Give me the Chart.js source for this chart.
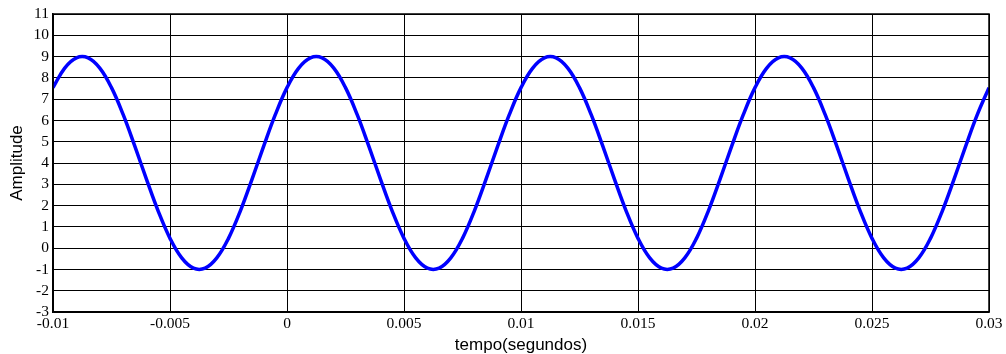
<!DOCTYPE html>
<html>
<head>
<meta charset="utf-8">
<script src="https://cdn.jsdelivr.net/npm/chart.js@4/dist/chart.umd.min.js"></script>
<style>
  html, body { margin: 0; padding: 0; background: #fff; }
  #wrap { width: 1006px; height: 354px; }
</style>
</head>
<body>
<div id="wrap"><canvas id="sineChart" width="1006" height="354"></canvas></div>
<script>
// time samples (s) and amplitude
const tempo = [
  -0.01, -0.0095, -0.009, -0.0085, -0.008, -0.0075, -0.007, -0.0065, -0.006, -0.0055,
  -0.005, -0.0045, -0.004, -0.0035, -0.003, -0.0025, -0.002, -0.0015, -0.001, -0.0005,
  0, 0.0005, 0.001, 0.0015, 0.002, 0.0025, 0.003, 0.0035, 0.004, 0.0045,
  0.005, 0.0055, 0.006, 0.0065, 0.007, 0.0075, 0.008, 0.0085, 0.009, 0.0095,
  0.01, 0.0105, 0.011, 0.0115, 0.012, 0.0125, 0.013, 0.0135, 0.014, 0.0145,
  0.015, 0.0155, 0.016, 0.0165, 0.017, 0.0175, 0.018, 0.0185, 0.019, 0.0195,
  0.02, 0.0205, 0.021, 0.0215, 0.022, 0.0225, 0.023, 0.0235, 0.024, 0.0245,
  0.025, 0.0255, 0.026, 0.0265, 0.027, 0.0275, 0.028, 0.0285, 0.029, 0.0295,
  0.03
];
const amplitude = [
  7.54, 8.46, 8.94, 8.94, 8.46, 7.54, 6.27, 4.78, 3.22, 1.73,
  0.46, -0.46, -0.94, -0.94, -0.46, 0.46, 1.73, 3.22, 4.78, 6.27,
  7.54, 8.46, 8.94, 8.94, 8.46, 7.54, 6.27, 4.78, 3.22, 1.73,
  0.46, -0.46, -0.94, -0.94, -0.46, 0.46, 1.73, 3.22, 4.78, 6.27,
  7.54, 8.46, 8.94, 8.94, 8.46, 7.54, 6.27, 4.78, 3.22, 1.73,
  0.46, -0.46, -0.94, -0.94, -0.46, 0.46, 1.73, 3.22, 4.78, 6.27,
  7.54, 8.46, 8.94, 8.94, 8.46, 7.54, 6.27, 4.78, 3.22, 1.73,
  0.46, -0.46, -0.94, -0.94, -0.46, 0.46, 1.73, 3.22, 4.78, 6.27,
  7.54
];
const xTickLabels = ['-0.01', '-0.005', '0', '0.005', '0.01', '0.015', '0.02', '0.025', '0.03'];
const yTickLabels = ['-3', '-2', '-1', '0', '1', '2', '3', '4', '5', '6', '7', '8', '9', '10', '11'];

const points = tempo.map((t, i) => ({ x: t, y: amplitude[i] }));

// black frame round the plot area, like matlab's box on
const boxPlugin = {
  id: 'boxPlugin',
  afterDraw(chart) {
    const { ctx, chartArea: a } = chart;
    ctx.save();
    ctx.strokeStyle = '#000';
    ctx.lineWidth = 1.5;
    ctx.strokeRect(a.left, a.top, a.right - a.left, a.bottom - a.top);
    ctx.restore();
  }
};

const tickFont = { family: '"Liberation Serif", "Times New Roman", serif', size: 15.5 };
const titleFont = { family: '"Liberation Sans", Arial, sans-serif', size: 17 };

const ctx = document.getElementById('sineChart').getContext('2d');
const sineChart = new Chart(ctx, {
  type: 'line',
  data: {
    datasets: [{
      data: points,
      borderColor: '#0000ff',
      borderWidth: 3.5,
      pointRadius: 0,
      tension: 0.4,
      fill: false
    }]
  },
  options: {
    responsive: false,
    animation: false,
    devicePixelRatio: 1,
    layout: { padding: { left: 0, right: 17, top: 14, bottom: 0 } },
    plugins: {
      legend: { display: false },
      tooltip: { enabled: false }
    },
    scales: {
      x: {
        type: 'linear',
        min: -0.01,
        max: 0.03,
        afterFit(scale) { scale.height = 42; },
        ticks: {
          stepSize: 0.005,
          autoSkip: false,
          color: '#000',
          font: tickFont,
          padding: 3,
          maxRotation: 0,
          callback: (v, i) => xTickLabels[i]
        },
        grid: { color: '#000', lineWidth: 1, drawTicks: false },
        border: { color: '#000', width: 1.5 },
        title: {
          display: true,
          text: 'tempo(segundos)',
          color: '#000',
          font: { ...titleFont, lineHeight: 1.05 },
          padding: { top: 0, bottom: 0 }
        }
      },
      y: {
        min: -3,
        max: 11,
        afterFit(scale) { scale.width = 53; },
        ticks: {
          stepSize: 1,
          autoSkip: false,
          color: '#000',
          font: tickFont,
          padding: 4,
          callback: (v, i) => yTickLabels[i]
        },
        grid: { color: '#000', lineWidth: 1, drawTicks: false },
        border: { color: '#000', width: 1.5 },
        title: {
          display: true,
          text: 'Amplitude',
          color: '#000',
          font: titleFont,
          padding: { top: 7, bottom: 0 }
        }
      }
    }
  },
  plugins: [boxPlugin]
});
</script>
</body>
</html>
